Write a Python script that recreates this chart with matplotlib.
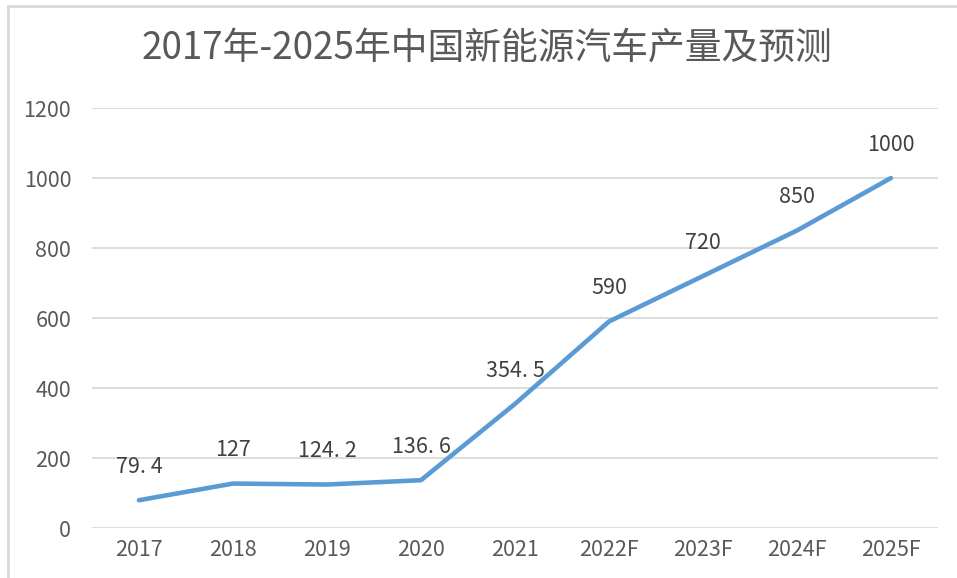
import matplotlib.pyplot as plt
from matplotlib.lines import Line2D

plt.rcParams['font.family'] = ['Noto Sans CJK SC', 'DejaVu Sans']

# data
years = ["2017", "2018", "2019", "2020", "2021", "2022F", "2023F", "2024F", "2025F"]
output = [79.4, 127, 124.2, 136.6, 354.5, 590, 720, 850, 1000]
labels = ["79. 4", "127", "124. 2", "136. 6", "354. 5", "590", "720", "850", "1000"]
y_ticks = [0, 200, 400, 600, 800, 1000, 1200]

text_col = "#595959"
grid_col = "#D9D9D9"
line_col = "#5B9BD5"

fig = plt.figure(figsize=(9.57, 5.78), dpi=100)
ax = fig.add_axes([0.0961, 0.0865, 0.884, 0.7266])

x = list(range(len(years)))
ax.plot(x, output, color=line_col, lw=3.3, solid_capstyle="round",
        solid_joinstyle="round", zorder=3)

for xi, yi, lab in zip(x, output, labels):
    ax.annotate(lab, (xi, yi), xytext=(0, 24), textcoords="offset points",
                ha="center", va="center", fontsize=15.5, color="#404040")

ax.set_xlim(-0.5, len(years) - 0.5)
ax.set_ylim(0, 1200)
ax.set_yticks(y_ticks)
ax.set_xticks(x)
ax.set_xticklabels(years)
ax.grid(axis="y", color=grid_col, lw=1.3)
ax.set_axisbelow(True)
for s in ax.spines.values():
    s.set_visible(False)
ax.tick_params(length=0, labelsize=15.5, labelcolor=text_col)
ax.tick_params(axis="y", pad=15)
ax.tick_params(axis="x", pad=8)

fig.text(0.509, 0.917, "2017年-2025年中国新能源汽车产量及预测", ha="center", va="center",
         fontsize=26.5, color=text_col)

# outer frame (top and left edges visible in the crop)
fig.add_artist(Line2D([8 / 957, 1], [1 - 6 / 578, 1 - 6 / 578], color=grid_col, lw=2,
                      transform=fig.transFigure))
fig.add_artist(Line2D([8 / 957, 8 / 957], [0, 1 - 6 / 578], color=grid_col, lw=2,
                      transform=fig.transFigure))

fig.savefig("out.png", dpi=100, facecolor="white")
